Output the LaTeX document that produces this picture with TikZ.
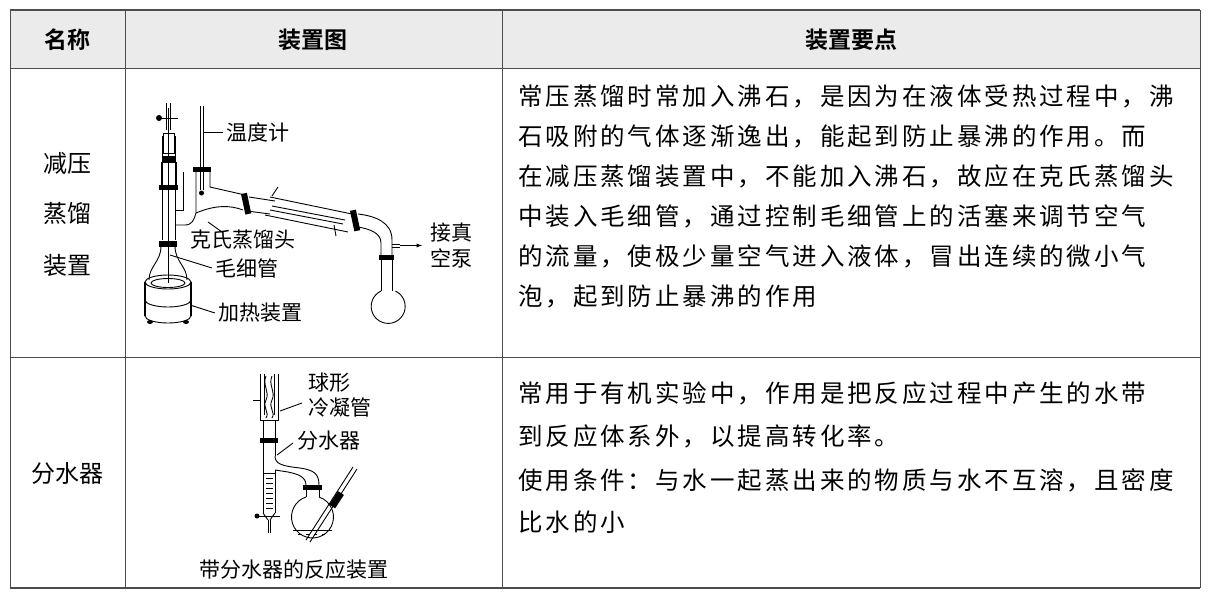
\documentclass[tikz,border=0pt]{standalone}
\usepackage{fontspec}
\newfontfamily\cjk{Noto Sans CJK SC}
\newfontfamily\cjkw[LetterSpace=12]{Noto Sans CJK SC}
\newfontfamily\cjkb{Noto Sans CJK SC Bold}
\begin{document}
\begin{tikzpicture}[x=1pt,y=-1pt,
 grid/.style={line width=1pt,draw=black!70},
 body/.style={font=\cjkw\fontsize{24.5}{25}\selectfont,anchor=west,inner sep=0},
 lab/.style={font=\cjk\fontsize{21}{21}\selectfont,anchor=west,inner sep=0},
 cell/.style={font=\cjk\fontsize{24}{24}\selectfont,inner sep=0},
 head/.style={font=\cjkb\fontsize{23}{23}\selectfont,inner sep=0},
 gl/.style={line width=0.9pt}]
\useasboundingbox (0,0) rectangle (1211,600);
\fill[black!8] (10,10) rectangle (1200,68);
\draw[grid,line width=1.6pt] (10,10) -- (1200,10);
\draw[grid,line width=1.6pt] (10,588) -- (1200,588);
\draw[grid] (10,68) -- (1200,68) (10,357) -- (1200,357);
\draw[grid] (10,10) -- (10,588) (125,10) -- (125,588) (502,10) -- (502,588) (1200,10) -- (1200,588);
\node[head] (h1) at (67,40) {名称};
\node[head] (h2) at (313,40) {装置图};
\node[head] (h3) at (851,40) {装置要点};
\node[cell] (r1a) at (67,163) {减压};
\node[cell] (r1b) at (67,213) {蒸馏};
\node[cell] (r1c) at (67,265) {装置};
\node[cell] (r2) at (67,473) {分水器};
\node[body] (t1) at (518,96) {常压蒸馏时常加入沸石，是因为在液体受热过程中，沸};
\node[body] (t2) at (518,136) {石吸附的气体逐渐逸出，能起到防止暴沸的作用。而};
\node[body] (t3) at (518,176) {在减压蒸馏装置中，不能加入沸石，故应在克氏蒸馏头};
\node[body] (t4) at (518,216) {中装入毛细管，通过控制毛细管上的活塞来调节空气};
\node[body] (t5) at (518,256) {的流量，使极少量空气进入液体，冒出连续的微小气};
\node[body] (t6) at (518,296) {泡，起到防止暴沸的作用};
\node[body] (u1) at (518,393) {常用于有机实验中，作用是把反应过程中产生的水带};
\node[body] (u2) at (518,436) {到反应体系外，以提高转化率。};
\node[body] (u3) at (518,480) {使用条件：与水一起蒸出来的物质与水不互溶，且密度};
\node[body] (u4) at (518,522) {比水的小};
% ---------- distillation apparatus ----------
\draw[gl] (168,282) ellipse (23 and 7);
\draw[gl] (168,283) ellipse (17 and 4.5);
\draw[gl] (145,300) arc (180:0:23 and 7);
\draw[gl] (145,316) arc (180:0:23 and 7);
\draw[line width=1.8pt] (145,282) -- (145,316) (191,282) -- (191,316);
\fill (150,322) ellipse (3 and 2) (186,322) ellipse (3 and 2);
\draw[gl] (161,246) .. controls (161,262) and (149,266) .. (149,280);
\draw[gl] (175,246) .. controls (175,262) and (187,266) .. (187,280);
\fill (159,241) rectangle (177,247);
\draw[gl] (168,108) -- (168,283);
\draw[gl] (166,103) -- (166,130) (170,103) -- (170,130);
\draw[gl] (158,118) -- (178,118);
\fill (159,118) circle (3);
\draw[gl] (162,136) -- (162,240) (175,136) -- (175,240);
\draw[gl] (163,133) rectangle (174,153);
\fill (162,156) rectangle (175,162);
\draw[gl] (161,162) rectangle (176,185);
\fill (159,185) rectangle (178,190);
\draw[gl] (175,225) -- (185,225) .. controls (192,225) and (194,220) .. (196,213) -- (196,172);
\draw[gl] (175,210) -- (183,210) -- (183,172);
\fill (193,167) rectangle (211,172);
\draw[gl] (210,172) -- (210,187) -- (245,195);
\draw[gl] (196,213) .. controls (215,205) and (230,205) .. (243,210);
\draw[gl] (200,106) -- (200,190) (203,106) -- (203,190);
\fill (201.5,193) circle (2.5);
\fill[rotate around={12:(247,203)}] (243,193) rectangle (249,214);
\draw[gl] (249,197) -- (275,201) (247,211) -- (270,214);
\draw[gl] (270,197) -- (352,214) (265,215) -- (348,232);
\draw[gl] (272,206) -- (345,220) (270,210) -- (343,224);
\draw[gl] (272,196) -- (278,187) (334,225) -- (336,236);
\fill[rotate around={12:(355,220)}] (352,210) rectangle (358,231);
\draw[gl] (358,214) .. controls (375,216) and (392,222) .. (392,240) -- (392,255);
\draw[gl] (358,227) .. controls (370,229) and (381,233) .. (381,243) -- (381,255);
\draw[gl] (392,244) -- (400,244) (392,247) -- (400,247);
\fill (379,255) rectangle (394,260);
\draw[gl] (381,260) -- (381,291) (392,260) -- (392,291);
\draw[gl] (381,291) arc (245:-65:17);
\coordinate (pv) at (400,245.5);
\coordinate (pe) at (422,245.5);
\draw[gl,-latex] (pv) -- (pe);
\node[lab] (lwd) at (226,132) {温度计};
\draw[gl] (lwd.west) ++(-3,0) -- (203,132);
\node[lab] (lkd) at (190,240) {克氏蒸馏头};
\draw[gl] (208,222) -- (222,232);
\node[lab] (lmx) at (215,268) {毛细管};
\draw[gl] (170,255) -- (212,268);
\node[lab] (ljr) at (218,313) {加热装置};
\draw[gl] (190,305) -- (215,313);
\node[lab] (ljz1) at (430,233) {接真};
\node[lab] (ljz2) at (430,258) {空泵};
% ---------- water separator ----------
\draw[gl] (260,374) -- (260,420) -- (278,420) -- (278,374);
\draw[gl] (264,374) -- (264,415) (274,374) -- (274,415);
\draw[gl] (266,376) .. controls (262,385) and (270,392) .. (266,400) .. controls (262,408) and (270,412) .. (266,418);
\draw[gl] (272,376) .. controls (268,385) and (276,392) .. (272,400) .. controls (268,408) and (276,412) .. (272,418);
\draw[gl] (253,400) -- (260,400);
\draw[gl] (263,420) -- (263,438) (275,420) -- (275,438);
\fill (260,438) rectangle (278,443);
\draw[gl] (263,443) -- (263,513) (275,443) -- (275,456);
\draw[gl] (275,456) .. controls (275,464) and (282,466) .. (300,468) .. controls (314,470) and (319,474) .. (319,485);
\draw[gl] (275,470) -- (288,472) .. controls (298,474) and (306,477) .. (306,485);
\draw[gl] (275,470) -- (275,513);
\draw[gl] (263,473) -- (275,473);
\foreach \yy in {478,483,...,508} \draw (266,\yy) -- (273,\yy);
\draw[gl] (263,513) -- (268,520) (275,513) -- (270,520);
\draw[gl] (257,516) -- (280,516);
\fill (257,516) circle (2.5);
\draw[gl] (268,520) -- (268,533) (270,520) -- (270,533);
\fill (303,485) rectangle (322,490);
\draw[gl] (306,490) -- (306,497) (319,490) -- (319,497);
\draw[gl] (306,497) arc (252:-72:21);
\draw[gl] (293,530) -- (332,530);
\foreach \xx in {298,306,...,326} \draw (\xx,534) -- (\xx+3,534);
\draw[gl] (353,467) -- (306,540) (357,469) -- (310,542);
\fill[rotate around={57:(337,500)}] (329,496) rectangle (345,503);
\node[lab] (lqx) at (308,383) {球形};
\node[lab] (llng) at (308,407) {冷凝管};
\draw[gl] (280,411) -- (302,403);
\node[lab] (lfs) at (297,441) {分水器};
\draw[gl] (277,455) -- (293,443);
\node[lab] (cap) at (199,570) {带分水器的反应装置};
\end{tikzpicture}
\end{document}
